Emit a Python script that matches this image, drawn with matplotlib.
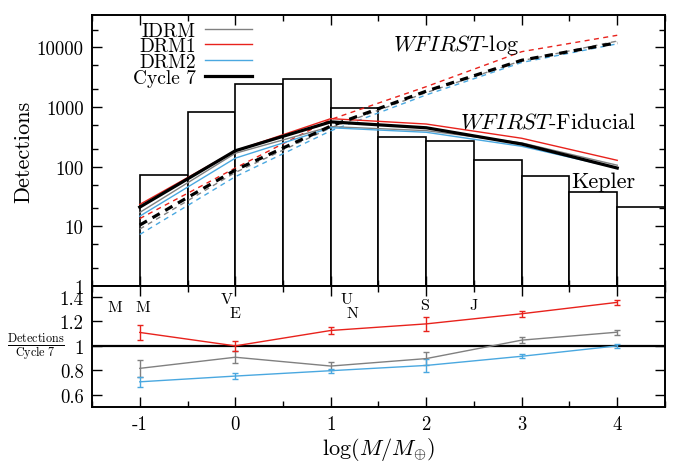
import numpy as np
import matplotlib.pyplot as plt

plt.rcParams['font.family'] = 'serif'
plt.rcParams['font.serif'] = ['cmr10', 'DejaVu Serif']
plt.rcParams['mathtext.fontset'] = 'cm'
plt.rcParams['axes.unicode_minus'] = False
plt.rcParams['axes.formatter.use_mathtext'] = True

# Kepler histogram (bin edges and counts)
kepler_edges = [-1.0, -0.5, 0.0, 0.5, 1.0, 1.5, 2.0, 2.5, 3.0, 3.5, 4.0, 4.5]
kepler_counts = [73, 840, 2480, 3000, 970, 318, 266, 132, 70, 37, 21]

# log mass bins of the simulated detections
logm = [-1, 0, 1, 2, 3, 4]

# WFIRST-Fiducial (solid)
fid_cycle7 = [21, 185, 565, 450, 240, 95]
fid_idrm = [17.1, 168, 470, 403, 251, 106]
fid_drm1 = [23.3, 185, 640, 520, 300, 128]
fid_drm2 = [14.8, 139, 450, 378, 220, 95]

# WFIRST-log (dashed)
log_cycle7 = [10.5, 88, 480, 1850, 6100, 12000]
log_idrm = [9.0, 80, 450, 1750, 6000, 12800]
log_drm1 = [13.5, 95, 620, 2200, 8500, 16000]
log_drm2 = [7.3, 68, 400, 1600, 5600, 11500]

# ratio panel (Detections / Cycle 7) with errors
ratio_idrm = [0.816, 0.907, 0.835, 0.896, 1.047, 1.112]
err_idrm = [0.07, 0.05, 0.03, 0.05, 0.025, 0.02]
ratio_drm1 = [1.11, 1.0, 1.126, 1.18, 1.263, 1.356]
err_drm1 = [0.058, 0.04, 0.025, 0.06, 0.025, 0.02]
ratio_drm2 = [0.706, 0.753, 0.797, 0.84, 0.915, 1.0]
err_drm2 = [0.04, 0.025, 0.015, 0.05, 0.015, 0.015]

# solar system planets
planet_names = ['M', 'M', 'V', 'E', 'U', 'N', 'S', 'J']
planet_logm = [-1.26, -0.97, -0.09, 0.0, 1.16, 1.23, 1.98, 2.50]
planet_y = [1.32, 1.32, 1.38, 1.27, 1.38, 1.27, 1.33, 1.33]

c_gray = '#808080'
c_red = '#e8221c'
c_blue = '#4aa8e0'

fig = plt.figure(figsize=(6.78, 4.64), dpi=100)
ax = fig.add_axes([0.1357, 0.3815, 0.8451, 0.5840])
axr = fig.add_axes([0.1357, 0.1207, 0.8451, 0.2608], sharex=ax)

# histogram
widths = np.diff(kepler_edges)
ax.bar(kepler_edges[:-1], kepler_counts, width=widths, align='edge',
       bottom=0.001, facecolor='white', edgecolor='black', linewidth=1.2, zorder=1)

dash = (0, (3.6, 3.2))
ax.plot(logm, log_idrm, color=c_gray, lw=1, ls=dash, zorder=3)
ax.plot(logm, log_drm1, color=c_red, lw=1, ls=dash, zorder=3)
ax.plot(logm, log_drm2, color=c_blue, lw=1, ls=dash, zorder=3)
ax.plot(logm, log_cycle7, color='black', lw=2.3, ls=(0, (2.6, 2.0)), zorder=4)

ax.plot(logm, fid_idrm, color=c_gray, lw=1, label='IDRM', zorder=3)
ax.plot(logm, fid_drm1, color=c_red, lw=1, label='DRM1', zorder=3)
ax.plot(logm, fid_drm2, color=c_blue, lw=1, label='DRM2', zorder=3)
ax.plot(logm, fid_cycle7, color='black', lw=2.3, label='Cycle 7', zorder=4)

ax.set_yscale('log')
ax.set_ylim(1, 3.5e4)
ax.set_xlim(-1.5, 4.5)
ax.set_yticks([1, 10, 100, 1000, 10000])
ax.set_yticklabels(['1', '10', '100', '1000', '10000'])
ax.set_yticks([2, 5, 20, 50, 200, 500, 2000, 5000, 20000], minor=True)
ax.set_yticklabels([], minor=True)
ax.set_ylabel('Detections', fontsize=16)
ax.tick_params(labelbottom=False)

ax.text(1.65, 9000, r'$WFIRST$-log', fontsize=16)
ax.text(2.35, 447, r'$WFIRST$-Fiducial', fontsize=16)
ax.text(3.52, 45, 'Kepler', fontsize=16)

leg = ax.legend(loc='upper right', bbox_to_anchor=(0.2792, 0.975), frameon=False,
                markerfirst=False, fontsize=14, handlelength=2.4,
                labelspacing=-0.12, borderaxespad=0.0, handletextpad=0.5,
                borderpad=0.0)
for t in leg.get_texts():
    t.set_ha('right')

# ratio panel
axr.axhline(1.0, color='black', lw=1.6)
axr.errorbar(logm, ratio_idrm, yerr=err_idrm, color=c_gray, lw=1, capsize=2.5, elinewidth=1)
axr.errorbar(logm, ratio_drm1, yerr=err_drm1, color=c_red, lw=1, capsize=2.5, elinewidth=1)
axr.errorbar(logm, ratio_drm2, yerr=err_drm2, color=c_blue, lw=1, capsize=2.5, elinewidth=1)
for name, xm, yp in zip(planet_names, planet_logm, planet_y):
    axr.text(xm, yp, name, ha='center', va='center', fontsize=11.5)

axr.set_ylim(0.5, 1.49)
axr.set_yticks([0.6, 0.8, 1.0, 1.2, 1.4])
axr.set_yticklabels(['0.6', '0.8', '1', '1.2', '1.4'])
axr.set_xticks(logm)
axr.set_xticklabels(['-1', '0', '1', '2', '3', '4'])
axr.set_xticks(np.arange(-1.5, 4.6, 0.5), minor=True)
axr.set_xlabel(r'$\log(M/M_{\oplus})$', fontsize=16, labelpad=1)
axr.text(-0.098, 0.5, r'$\frac{\mathrm{Detections}}{\mathrm{Cycle\ 7}}$', fontsize=12.5,
         transform=axr.transAxes, ha='center', va='center')

for a in (ax, axr):
    a.tick_params(which='both', direction='in', top=True, right=True, labelsize=13.5, pad=6)
    a.tick_params(which='major', length=7, width=1)
    a.tick_params(which='minor', length=4, width=1)
    for s in a.spines.values():
        s.set_linewidth(1.4)
ax.yaxis.set_label_coords(-0.103, 0.5)

fig.savefig('out.png', dpi=100)
